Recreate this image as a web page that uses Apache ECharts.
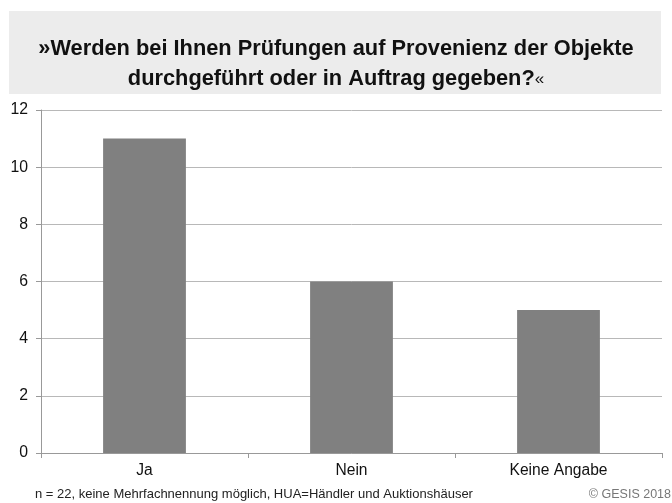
<!DOCTYPE html>
<html>
<head>
<meta charset="utf-8">
<script src="https://cdn.jsdelivr.net/npm/echarts@6/dist/echarts.min.js"></script>
<style>
  html, body { margin: 0; padding: 0; background: #fff; }
  #main { width: 672px; height: 503px; }
</style>
</head>
<body>
<div id="main"></div>
<script>
// Kategorien und Werte
var categories = ['Ja', 'Nein', 'Keine Angabe'];
var values = [11, 6, 5];
var titleLine1 = '»Werden bei Ihnen Prüfungen auf Provenienz der Objekte';
var titleLine2 = 'durchgeführt oder in Auftrag gegeben?';
var noteText = 'n = 22, keine Mehrfachnennung möglich, HUA=Händler und Auktionshäuser';
var sourceText = '© GESIS 2018';

var chart = echarts.init(document.getElementById('main'));

var option = {
    backgroundColor: '#ffffff',
    animation: false,
    textStyle: { fontFamily: 'Liberation Sans, Arial, sans-serif' },
    graphic: [
        {
            type: 'rect',
            left: 9, top: 11,
            shape: { width: 652, height: 83 },
            style: { fill: '#ececec' },
            z: -1
        },
        {
            type: 'text',
            left: 35, top: 488,
            style: { text: noteText, fontSize: 13, fill: '#222', fontFamily: 'Liberation Sans, Arial, sans-serif' }
        },
        {
            type: 'text',
            right: 1, top: 488,
            style: { text: sourceText, fontSize: 12.5, fill: '#777', fontFamily: 'Liberation Sans, Arial, sans-serif' }
        }
    ],
    title: {
        text: '{b|' + titleLine1 + '}\n{b|' + titleLine2 + '}{q|«}',
        left: 'center',
        top: 29,
        textStyle: {
            fontSize: 21.8,
            color: '#111',
            lineHeight: 30,
            fontFamily: 'Liberation Sans, Arial, sans-serif',
            rich: {
                b: { fontSize: 21.8, fontWeight: 'bold', color: '#111', lineHeight: 30 },
                q: { fontSize: 17, fontWeight: 'normal', color: '#111', lineHeight: 30 }
            }
        }
    },
    grid: {
        left: 41,
        right: 10,
        top: 110,
        bottom: 50,
        containLabel: false
    },
    xAxis: {
        type: 'category',
        data: categories,
        axisLine: { lineStyle: { color: '#999', width: 1 } },
        axisTick: { show: true, length: 5, lineStyle: { color: '#999' } },
        axisLabel: { color: '#111', fontSize: 15.6, margin: 10 }
    },
    yAxis: {
        type: 'value',
        min: 0,
        max: 12,
        interval: 2,
        axisLine: { show: true, lineStyle: { color: '#999', width: 1 } },
        axisTick: { show: true, length: 5, lineStyle: { color: '#999' } },
        axisLabel: { color: '#111', fontSize: 15.8, margin: 13 },
        splitLine: { lineStyle: { color: '#b8b8b8', width: 1 } }
    },
    series: [{
        type: 'bar',
        data: values,
        barWidth: '40%',
        itemStyle: { color: '#808080' }
    }]
};

chart.setOption(option);
</script>
</body>
</html>
